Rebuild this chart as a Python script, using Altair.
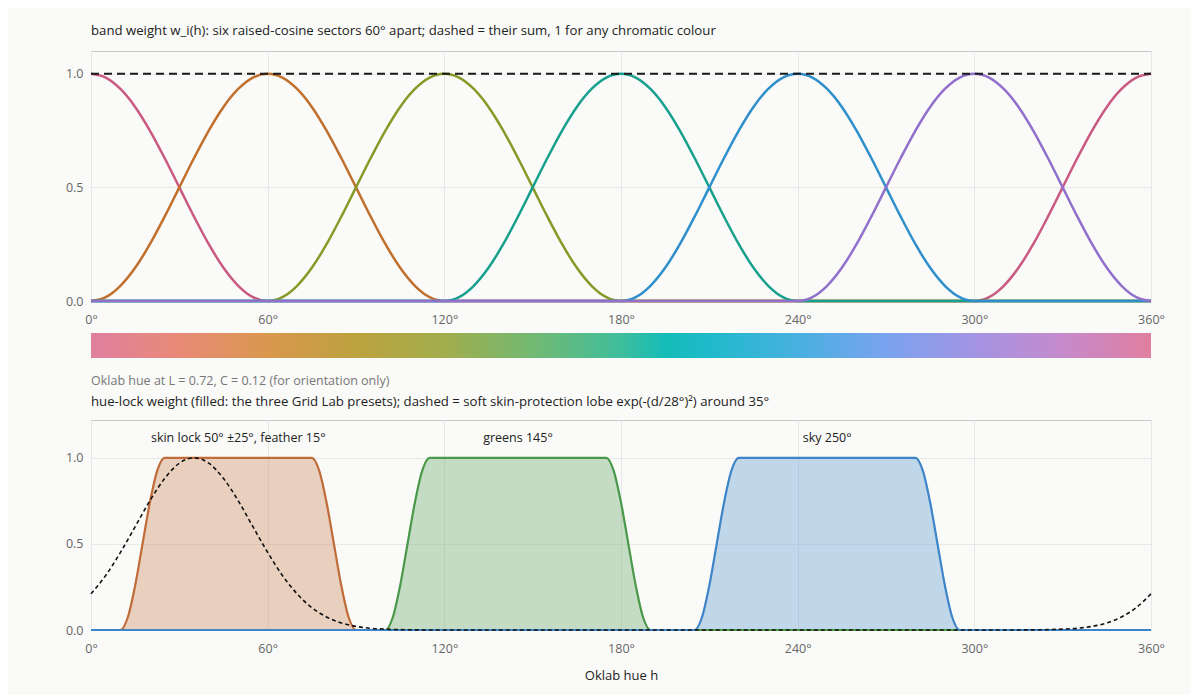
import altair as alt
import pandas as pd

HUE_TICKS = [0, 60, 120, 180, 240, 300, 360]

# six raised-cosine bands
BAND_NAMES = ["red", "orange", "yellow", "green", "blue", "purple"]
BAND_CENTRES = [0, 60, 120, 180, 240, 300]
BAND_COLOURS = ["#c95a80", "#c06f2c", "#869a27", "#17a08e", "#2e8fcb", "#9070cb"]
COS_OFFSETS = list(range(-60, 65, 5))
COS_WEIGHTS = [0, 0.017, 0.067, 0.146, 0.25, 0.371, 0.5, 0.629, 0.75, 0.854, 0.933, 0.983, 1,
               0.983, 0.933, 0.854, 0.75, 0.629, 0.5, 0.371, 0.25, 0.146, 0.067, 0.017, 0]

# hue strip, Oklab L=0.72 C=0.12
STRIP_HUES = [0, 30, 60, 90, 120, 150, 180, 195, 210, 240, 270, 300, 330, 360]
STRIP_COLOURS = ["#e07f9f", "#e88a76", "#d9974e", "#bca23e", "#a2ad4c", "#72b972", "#3fbe9c",
                 "#14bcb8", "#1fbacb", "#48b0e0", "#7aa3ef", "#a394e3", "#c58acc", "#e07f9f"]

# hue-lock presets
LOCK_NAMES = ["skin", "greens", "sky"]
LOCK_LABELS = ["skin lock 50° ±25°, feather 15°", "greens 145°", "sky 250°"]
LOCK_CENTRES = [50, 145, 250]
LOCK_HALF_WIDTHS = [25, 30, 30]
LOCK_FEATHER = 15
LOCK_COLOURS = ["#c06c38", "#4a984a", "#3d85c8"]
RAMP_OFFSETS = [0, 2.5, 5, 7.5, 10, 12.5, 15]
RAMP_WEIGHTS = [0, 0.074, 0.259, 0.5, 0.741, 0.926, 1]

# soft skin-protection lobe
SKIN_LOBE_CENTRE = 35
SKIN_LOBE_D = list(range(0, 95, 5))
SKIN_LOBE_W = [1, 0.969, 0.880, 0.751, 0.600, 0.451, 0.317, 0.210, 0.130, 0.076,
               0.041, 0.021, 0.010, 0.005, 0.002, 0.001, 0.0003, 0.0001, 0]

# --- tables
band_rows = []
for i, (name, c) in enumerate(zip(BAND_NAMES, BAND_CENTRES)):
    pts = {}
    for d, w in zip(COS_OFFSETS, COS_WEIGHTS):
        h = c + d
        if h < 0:
            h += 360
        pts[h] = w
        if h == 0:
            pts[360] = w
    pts.setdefault(0, 0)
    pts.setdefault(360, 0)
    for h in sorted(pts):
        band_rows.append({"band": name, "idx": i, "h": h, "w": pts[h]})
bands = pd.DataFrame(band_rows)

lock_rows = []
for i, (name, c, hw) in enumerate(zip(LOCK_NAMES, LOCK_CENTRES, LOCK_HALF_WIDTHS)):
    pts = {0: 0, 360: 0}
    for t, w in zip(RAMP_OFFSETS, RAMP_WEIGHTS):
        pts[c - hw - LOCK_FEATHER + t] = w
        pts[c + hw + LOCK_FEATHER - t] = w
    for h in sorted(pts):
        lock_rows.append({"lock": name, "idx": i, "h": h, "w": pts[h]})
locks = pd.DataFrame(lock_rows)

lobe_lookup = dict(zip(SKIN_LOBE_D, SKIN_LOBE_W))
lobe_rows = []
for h in range(0, 365, 5):
    d = abs(h - SKIN_LOBE_CENTRE)
    d = min(d, 360 - d)
    lobe_rows.append({"h": h, "w": lobe_lookup.get(d, 0)})
lobe = pd.DataFrame(lobe_rows)

labels = pd.DataFrame({"h": LOCK_CENTRES, "label": LOCK_LABELS})

x_scale = alt.Scale(domain=[0, 360], nice=False, zero=False)
x_axis = alt.Axis(values=HUE_TICKS, labelExpr="datum.value + '°'", title=None,
                  labelPadding=12, labelFlush=False)
y_axis = alt.Axis(values=[0, 0.5, 1], format=".1f", title=None, labelPadding=8)

# --- top panel
band_base = alt.Chart(bands).encode(
    x=alt.X("h:Q", scale=x_scale, axis=x_axis),
    y=alt.Y("w:Q", scale=alt.Scale(domain=[0, 1.1], nice=False), axis=y_axis),
)
band_lines = band_base.mark_line(strokeWidth=2.5, interpolate="monotone").encode(
    color=alt.Color("band:N", scale=alt.Scale(domain=BAND_NAMES, range=BAND_COLOURS), legend=None),
    detail="idx:O",
)
band_sum = alt.Chart(bands).transform_aggregate(
    total="sum(w)", groupby=["h"]
).mark_line(color="#1a1a1a", strokeWidth=2, strokeDash=[8, 5]).encode(
    x=alt.X("h:Q", scale=x_scale),
    y=alt.Y("total:Q"),
)
top = alt.layer(band_lines, band_sum).properties(
    width=1060, height=250,
    title=alt.TitleParams(
        "band weight w_i(h): six raised-cosine sectors 60° apart; dashed = their sum, 1 for any chromatic colour",
        offset=13, frame="group",
    ),
)

# --- hue strip
strip = alt.Chart(pd.DataFrame({"h0": [0], "h1": [360]})).mark_rect(
    color=alt.Gradient(
        gradient="linear",
        stops=[alt.GradientStop(color=c, offset=h / 360) for h, c in zip(STRIP_HUES, STRIP_COLOURS)],
        x1=0, x2=1, y1=0, y2=0,
    )
).encode(
    x=alt.X("h0:Q", scale=x_scale, axis=None),
    x2="h1",
).properties(
    width=1060, height=25,
    view=alt.ViewBackground(stroke="transparent"),
    title=alt.TitleParams(
        "Oklab hue at L = 0.72, C = 0.12 (for orientation only)",
        orient="bottom", color="#777", fontSize=12.5, offset=17, frame="group",
    ),
)

# --- bottom panel
lock_base = alt.Chart(locks).encode(
    x=alt.X("h:Q", scale=x_scale, axis=alt.Axis(values=HUE_TICKS, labelExpr="datum.value + '°'",
                                               title="Oklab hue h", labelPadding=12,
                                               labelFlush=False)),
    y=alt.Y("w:Q", scale=alt.Scale(domain=[0, 1.22], nice=False), axis=y_axis, stack=None),
    color=alt.Color("lock:N", scale=alt.Scale(domain=LOCK_NAMES, range=LOCK_COLOURS), legend=None),
    detail="idx:O",
)
lock_areas = lock_base.mark_area(opacity=0.3, interpolate="monotone")
lock_lines = lock_base.mark_line(strokeWidth=2.2, interpolate="monotone")
lobe_line = alt.Chart(lobe).mark_line(
    color="#111", strokeWidth=1.6, strokeDash=[4, 3], interpolate="monotone"
).encode(x=alt.X("h:Q", scale=x_scale), y="w:Q")
lock_text = alt.Chart(labels).mark_text(fontSize=12.5, color="#222", baseline="middle").encode(
    x=alt.X("h:Q", scale=x_scale),
    y=alt.value(18),
    text="label:N",
)
bottom = alt.layer(lock_areas, lock_lines, lobe_line, lock_text).properties(
    width=1060, height=210,
    title=alt.TitleParams(
        "hue-lock weight (filled: the three Grid Lab presets); dashed = soft skin-protection lobe exp(-(d/28°)²) around 35°",
        offset=11, frame="group",
    ),
)

chart = alt.vconcat(top, strip, bottom, spacing=6).resolve_scale(
    color="independent"
).properties(
    padding={"left": 5, "top": 15, "right": 26, "bottom": 12},
    background="#fafaf8",
).configure(
    font="Open Sans",
).configure_axis(
    domain=False, ticks=False, gridColor="#e8e8e8", labelColor="#666", labelFontSize=12.5,
    titleFontWeight="normal", titleFontSize=13, titleColor="#222", titlePadding=15,
).configure_axisY(
    minExtent=77,
).configure_view(
    stroke="#c8c8c8",
).configure_title(
    fontSize=13.2, fontWeight="normal", color="#222", anchor="start",
)

chart.save("out.html", embed_options={"renderer": "svg", "actions": False})
